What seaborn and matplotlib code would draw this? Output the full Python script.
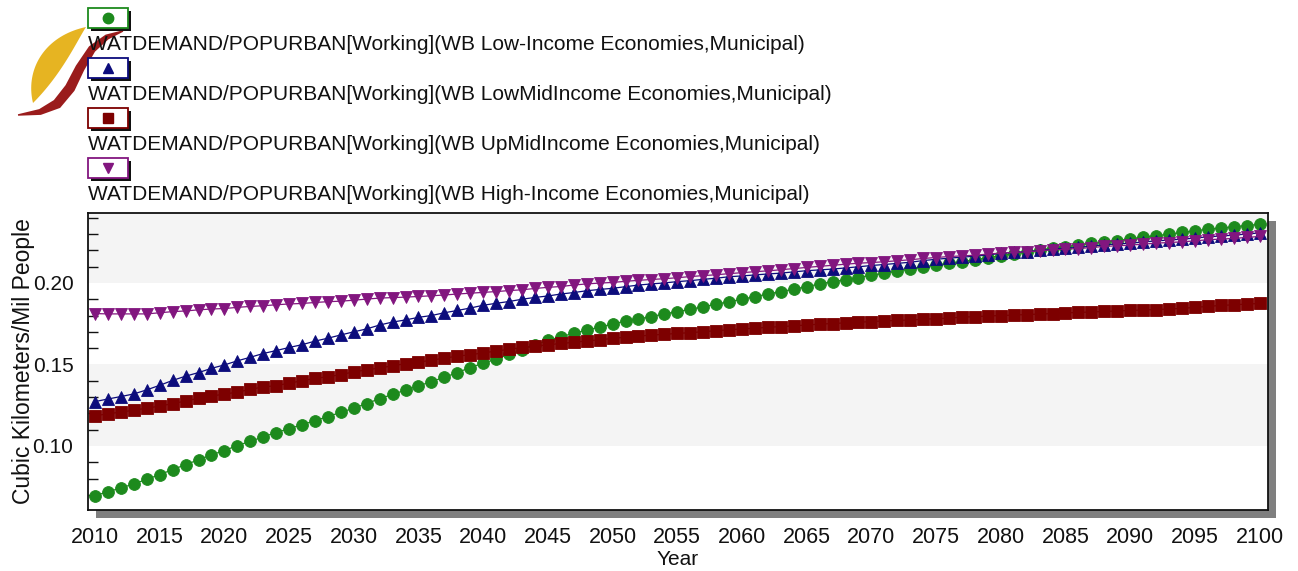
import numpy as np
import pandas as pd
import matplotlib
matplotlib.use("Agg")
import matplotlib.pyplot as plt
import seaborn as sns
from matplotlib.patches import Rectangle, Polygon
from matplotlib.ticker import MultipleLocator, FormatStrFormatter

# ---------------------------------------------------------------- data
years = list(range(2010, 2101))

low_income = [
    0.0695, 0.0719, 0.0742, 0.0767, 0.0795, 0.0824, 0.0855, 0.0885, 0.0915, 0.0945,
    0.0972, 0.1002, 0.1028, 0.1056, 0.1082, 0.1106, 0.1130, 0.1155, 0.1180, 0.1206,
    0.1232, 0.1260, 0.1290, 0.1316, 0.1343, 0.1368, 0.1395, 0.1421, 0.1450, 0.1481,
    0.1507, 0.1533, 0.1562, 0.1589, 0.1619, 0.1647, 0.1670, 0.1691, 0.1711, 0.1729,
    0.1748, 0.1766, 0.1779, 0.1794, 0.1810, 0.1824, 0.1838, 0.1854, 0.1870, 0.1885,
    0.1900, 0.1916, 0.1932, 0.1947, 0.1962, 0.1977, 0.1994, 0.2008, 0.2019, 0.2033,
    0.2048, 0.2059, 0.2073, 0.2086, 0.2099, 0.2110, 0.2121, 0.2131, 0.2142, 0.2155,
    0.2167, 0.2180, 0.2191, 0.2202, 0.2213, 0.2223, 0.2233, 0.2243, 0.2252, 0.2260,
    0.2270, 0.2282, 0.2290, 0.2299, 0.2310, 0.2319, 0.2330, 0.2336, 0.2345, 0.2352,
    0.2360,
]

lowmid_income = [
    0.1272, 0.1288, 0.1303, 0.1319, 0.1344, 0.1372, 0.1402, 0.1428, 0.1450, 0.1476,
    0.1497, 0.1522, 0.1544, 0.1567, 0.1585, 0.1604, 0.1621, 0.1643, 0.1661, 0.1681,
    0.1700, 0.1718, 0.1742, 0.1760, 0.1773, 0.1789, 0.1800, 0.1817, 0.1831, 0.1846,
    0.1863, 0.1875, 0.1886, 0.1900, 0.1911, 0.1920, 0.1932, 0.1941, 0.1952, 0.1960,
    0.1967, 0.1977, 0.1987, 0.1994, 0.2000, 0.2008, 0.2014, 0.2022, 0.2029, 0.2038,
    0.2043, 0.2049, 0.2055, 0.2060, 0.2068, 0.2075, 0.2080, 0.2085, 0.2092, 0.2099,
    0.2107, 0.2113, 0.2120, 0.2127, 0.2137, 0.2145, 0.2152, 0.2158, 0.2164, 0.2172,
    0.2181, 0.2187, 0.2192, 0.2199, 0.2207, 0.2213, 0.2218, 0.2226, 0.2234, 0.2239,
    0.2244, 0.2251, 0.2258, 0.2263, 0.2269, 0.2275, 0.2283, 0.2288, 0.2293, 0.2300,
    0.2307,
]

upmid_income = [
    0.1184, 0.1198, 0.1207, 0.1220, 0.1231, 0.1245, 0.1259, 0.1276, 0.1292, 0.1306,
    0.1318, 0.1330, 0.1347, 0.1362, 0.1370, 0.1385, 0.1400, 0.1414, 0.1425, 0.1437,
    0.1455, 0.1466, 0.1479, 0.1491, 0.1505, 0.1513, 0.1527, 0.1538, 0.1551, 0.1559,
    0.1571, 0.1582, 0.1593, 0.1604, 0.1613, 0.1620, 0.1629, 0.1635, 0.1645, 0.1651,
    0.1660, 0.1667, 0.1674, 0.1680, 0.1685, 0.1690, 0.1695, 0.1701, 0.1707, 0.1713,
    0.1718, 0.1722, 0.1728, 0.1732, 0.1737, 0.1742, 0.1747, 0.1751, 0.1755, 0.1759,
    0.1763, 0.1767, 0.1770, 0.1773, 0.1777, 0.1781, 0.1784, 0.1790, 0.1793, 0.1797,
    0.1800, 0.1803, 0.1806, 0.1809, 0.1812, 0.1816, 0.1819, 0.1822, 0.1825, 0.1828,
    0.1831, 0.1834, 0.1837, 0.1840, 0.1844, 0.1850, 0.1856, 0.1862, 0.1866, 0.1870,
    0.1874,
]

high_income = [
    0.1812, 0.1810, 0.1810, 0.1810, 0.1810, 0.1817, 0.1824, 0.1828, 0.1835, 0.1840,
    0.1843, 0.1850, 0.1856, 0.1860, 0.1866, 0.1871, 0.1874, 0.1880, 0.1885, 0.1888,
    0.1894, 0.1901, 0.1907, 0.1910, 0.1913, 0.1917, 0.1921, 0.1926, 0.1932, 0.1937,
    0.1942, 0.1947, 0.1953, 0.1958, 0.1966, 0.1973, 0.1978, 0.1987, 0.1994, 0.1999,
    0.2003, 0.2010, 0.2016, 0.2021, 0.2026, 0.2032, 0.2039, 0.2045, 0.2050, 0.2057,
    0.2063, 0.2069, 0.2074, 0.2081, 0.2088, 0.2095, 0.2102, 0.2108, 0.2115, 0.2121,
    0.2125, 0.2130, 0.2136, 0.2142, 0.2150, 0.2156, 0.2162, 0.2166, 0.2170, 0.2177,
    0.2183, 0.2187, 0.2191, 0.2197, 0.2203, 0.2207, 0.2211, 0.2217, 0.2224, 0.2228,
    0.2232, 0.2238, 0.2244, 0.2248, 0.2252, 0.2258, 0.2265, 0.2269, 0.2273, 0.2279,
    0.2285,
]

series_labels = [
    "WATDEMAND/POPURBAN[Working](WB Low-Income Economies,Municipal)",
    "WATDEMAND/POPURBAN[Working](WB LowMidIncome Economies,Municipal)",
    "WATDEMAND/POPURBAN[Working](WB UpMidIncome Economies,Municipal)",
    "WATDEMAND/POPURBAN[Working](WB High-Income Economies,Municipal)",
]
series_values = [low_income, lowmid_income, upmid_income, high_income]
series_colors = ["#1d8a1d", "#0c0c7c", "#7d0000", "#82167f"]
series_markers = ["o", "^", "s", "v"]

y_major = [0.10, 0.15, 0.20]
x_label = "Year"
y_label = "Cubic Kilometers/Mil People"

df = pd.concat(
    [pd.DataFrame({"Year": years, "Value": vals, "Series": lab})
     for lab, vals in zip(series_labels, series_values)],
    ignore_index=True,
)

# ---------------------------------------------------------------- figure
sns.set_theme(style="white")
plt.rcParams["font.family"] = ["Liberation Sans", "DejaVu Sans"]
plt.rcParams["text.color"] = "#111111"

W, H = 1298, 571
fig = plt.figure(figsize=(W / 100, H / 100), dpi=100, facecolor="white")

# decoration layer in pixel coordinates (y downwards)
deco = fig.add_axes([0, 0, 1, 1], zorder=0)
deco.set_xlim(0, W)
deco.set_ylim(H, 0)
deco.axis("off")

ax_l, ax_r, ax_t, ax_b = 88, 1268, 213, 510
ax = fig.add_axes([ax_l / W, 1 - ax_b / H, (ax_r - ax_l) / W, (ax_b - ax_t) / H], zorder=1)

# drop shadow behind the plot frame
deco.add_patch(Rectangle((ax_l + 8, ax_t + 8), ax_r - ax_l, ax_b - ax_t,
                         facecolor="#7f7f7f", edgecolor="none"))

# ---------------------------------------------------------------- logo
def bezier(p0, p1, p2, p3, n=40):
    t = np.linspace(0, 1, n)[:, None]
    p0, p1, p2, p3 = map(np.asarray, (p0, p1, p2, p3))
    return ((1 - t) ** 3) * p0 + 3 * ((1 - t) ** 2) * t * p1 + 3 * (1 - t) * t ** 2 * p2 + t ** 3 * p3

leaf = np.vstack([
    bezier((33, 103), (25, 70), (44, 36), (86, 27)),
    bezier((86, 27), (77, 41), (62, 74), (33, 103)),
])
deco.add_patch(Polygon(leaf, closed=True, facecolor="#e6b422", edgecolor="none"))

stroke_c = np.array([(18, 115), (40, 112), (57, 104), (70, 88), (80, 68),
                     (92, 49), (107, 37), (123, 31)], float)
stroke_w = np.array([1.5, 6.0, 10.0, 10.5, 9.5, 8.0, 5.5, 1.5])
tang = np.gradient(stroke_c, axis=0)
tang /= np.linalg.norm(tang, axis=1)[:, None]
norm = np.column_stack([-tang[:, 1], tang[:, 0]])
upper = stroke_c + norm * stroke_w[:, None] / 2
lower = stroke_c - norm * stroke_w[:, None] / 2
deco.add_patch(Polygon(np.vstack([upper, lower[::-1]]), closed=True,
                       facecolor="#9a1c1c", edgecolor="none"))

# ---------------------------------------------------------------- legend
for i, (lab, col, mk) in enumerate(zip(series_labels, series_colors, series_markers)):
    top = 8 + 50 * i
    deco.add_patch(Rectangle((91, top + 3), 40, 20, facecolor="#111111", edgecolor="none"))
    deco.add_patch(Rectangle((88, top), 40, 20, facecolor="white", edgecolor=col, linewidth=1.3))
    deco.plot([108], [top + 10], marker=mk, color=col, markersize=7.5, linestyle="none")
    deco.text(88, top + 36, lab, fontsize=15, va="center", ha="left", color="#111111")

# ---------------------------------------------------------------- plot
ylim = (0.0607, 0.2429)
ax.axhspan(0.10, 0.15, color="#f4f4f4", zorder=0, linewidth=0)
ax.axhspan(0.20, ylim[1], color="#f4f4f4", zorder=0, linewidth=0)

sns.lineplot(
    data=df, x="Year", y="Value", hue="Series", style="Series",
    hue_order=series_labels, style_order=series_labels,
    palette=dict(zip(series_labels, series_colors)),
    markers=dict(zip(series_labels, series_markers)),
    dashes=False, markersize=8.5, linewidth=0.9, legend=False, ax=ax,
)
for line, col in zip(ax.lines, series_colors):
    line.set_markeredgecolor(col)
    line.set_markeredgewidth(0.6)

ax.set_xlim(2009.46, 2100.65)
ax.set_ylim(*ylim)
ax.xaxis.set_major_locator(MultipleLocator(5))
ax.set_yticks(y_major)
ax.yaxis.set_minor_locator(MultipleLocator(0.01))
ax.yaxis.set_major_formatter(FormatStrFormatter("%.2f"))

ax.tick_params(axis="both", which="major", direction="inout", length=15, width=1.2,
               color="#111111", labelcolor="#111111")
ax.tick_params(axis="x", which="major", pad=5, labelsize=15.5)
ax.tick_params(axis="y", which="major", pad=3, labelsize=15)
ax.tick_params(axis="y", which="minor", direction="in", length=7, width=1.0,
               color="#111111", left=True)

for sp in ax.spines.values():
    sp.set_color("#111111")
    sp.set_linewidth(1.3)

ax.set_xlabel(x_label, fontsize=15, color="#111111")
ax.set_ylabel(y_label, fontsize=16.5, color="#111111")
ax.xaxis.set_label_coords(0.5, -0.135)
ax.yaxis.set_label_coords(-0.045, 0.5)

fig.savefig("out.png", dpi=100, facecolor="white")
